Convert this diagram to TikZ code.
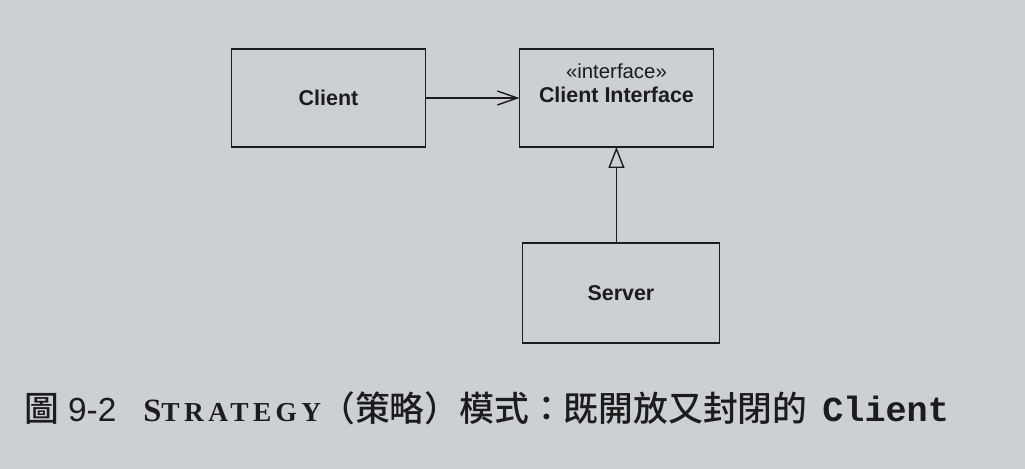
\documentclass[tikz,border=0pt]{standalone}
\usepackage{fontspec}
\usetikzlibrary{positioning,arrows.meta}

\newfontfamily\boxfont{Liberation Sans}
\newfontfamily\cjkfont{Noto Sans CJK TC Medium}
\newfontfamily\codefont{Liberation Mono}
\newfontfamily\capsfont[LetterSpace=16]{Liberation Serif}
\definecolor{paper}{RGB}{204,208,211}
\definecolor{ink}{RGB}{28,28,30}

\begin{document}
\begin{tikzpicture}[x=0.02cm,y=-0.02cm,
  umlbox/.style={draw=ink,line width=0.8pt,minimum width=3.88cm,minimum height=1.96cm,inner sep=0pt,outer sep=0pt},
  boxname/.style={text=ink,font=\boxfont\bfseries\fontsize{12.2}{14}\selectfont},
  stereo/.style={text=ink,font=\boxfont\fontsize{11.6}{14}\selectfont},
  caption/.style={text=ink,inner sep=0pt,anchor=base west},
  link/.style={draw=ink,line width=0.8pt}]
\fill[paper] (0,0) rectangle (1025,469);
\useasboundingbox (0,0) rectangle (1025,469);

% classes
\node[umlbox,boxname] (client) at (328.5,98) {Client};
\node[umlbox,right=1.88cm of client] (iface) {};
\node[stereo,anchor=base] (ifacetag) at ([yshift=-0.6cm]iface.north) {«interface»};
\node[boxname,anchor=base] (ifacename) at ([yshift=-1.08cm]iface.north) {Client Interface};
\node[umlbox,boxname,minimum width=3.94cm,minimum height=2cm,below=1.92cm of iface,xshift=0.09cm] (server) {Server};

% relations
\draw[link,-{Straight Barb[length=0.4cm,width=0.28cm]}] (client) -- (iface);
\draw[link,-{Triangle[open,length=0.42cm,width=0.32cm]}] (iface.south |- server.north) -- (iface.south);

% caption
\node[caption] (figno) at (24,422) {{\cjkfont\fontsize{19.8}{22}\selectfont 圖}\hspace{0.18cm}{\boxfont\fontsize{19}{22}\selectfont 9-2}};
\node[caption] (figname) at (143,422) {\capsfont\bfseries\fontsize{18.5}{22}\selectfont S\fontsize{15.6}{22}\selectfont TRATEGY};
\node[caption] (figtitle) at (320,422) {{\cjkfont\fontsize{19.8}{22}\selectfont （策略）模式：既開放又封閉的}\hspace{0.3cm}{\codefont\bfseries\fontsize{20}{22}\selectfont Client}};
\end{tikzpicture}
\end{document}
